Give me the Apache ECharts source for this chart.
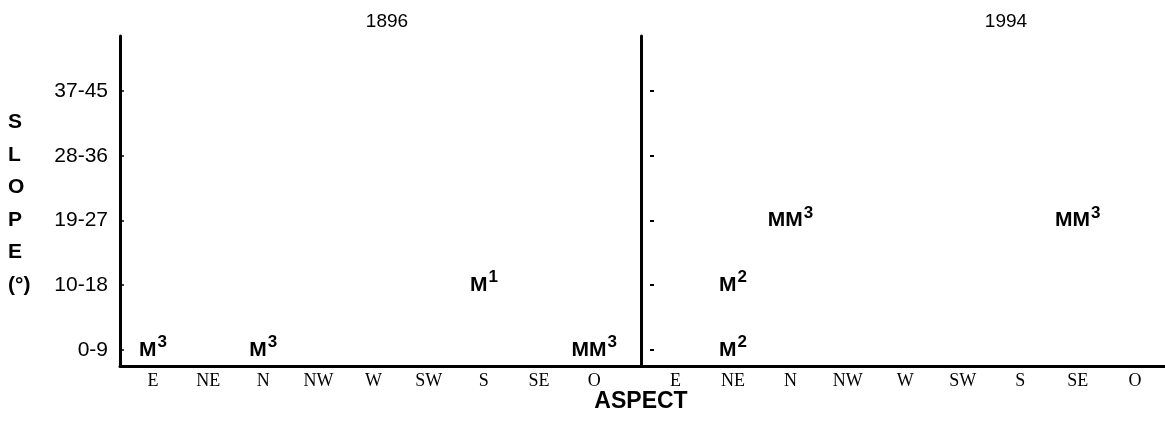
<!DOCTYPE html>
<html>
<head>
<meta charset="utf-8">
<script src="https://cdn.jsdelivr.net/npm/echarts@6/dist/echarts.min.js"></script>
<style>
  html, body { margin: 0; padding: 0; background: #fff; }
  #chart { width: 1165px; height: 433px; }
</style>
</head>
<body>
<div id="chart"></div>
<script>
// ---- data ----
const aspects = ['E', 'NE', 'N', 'NW', 'W', 'SW', 'S', 'SE', 'O'];
const slopes = ['0-9', '10-18', '19-27', '28-36', '37-45'];
const panelTitles = ['1896', '1994'];

// each mark: aspect, slope class, letters, superscript
const marks1896Aspect = ['E', 'N', 'S', 'O'];
const marks1896Slope = ['0-9', '0-9', '10-18', '0-9'];
const marks1896Text = ['M', 'M', 'M', 'MM'];
const marks1896Sup = ['3', '3', '1', '3'];

const marks1994Aspect = ['NE', 'NE', 'N', 'SE'];
const marks1994Slope = ['0-9', '10-18', '19-27', '19-27'];
const marks1994Text = ['M', 'M', 'MM', 'MM'];
const marks1994Sup = ['2', '2', '3', '3'];

// ---- build ----
function buildData(a, s, t, p) {
  return a.map((asp, i) => ({
    value: [aspects.indexOf(asp), slopes.indexOf(s[i])],
    txt: t[i], sup: p[i]
  }));
}
const idx = aspects.map((_, i) => i);
const sidx = slopes.map((_, i) => i);

const chart = echarts.init(document.getElementById('chart'), null, { renderer: 'canvas' });

const black = '#000';
const sans = 'Liberation Sans, Arial, Helvetica, sans-serif';
const serif = 'Liberation Serif, Times New Roman, serif';

function xAxis(gridIndex, max) {
  return {
    type: 'value', gridIndex, min: -0.6, max: max,
    splitLine: { show: false },
    axisLine: { show: true, onZero: false, lineStyle: { color: black, width: 3 } },
    axisTick: { show: false },
    axisLabel: {
      customValues: idx,
      formatter: v => aspects[Math.round(v)],
      color: black, fontFamily: serif, fontSize: 18, margin: 6
    }
  };
}

const labelStyle = {
  show: true,
  position: 'inside',
  color: black,
  opacity: 1,
  formatter: p => '{m|' + p.data.txt + '}{s|' + p.data.sup + '}',
  rich: {
    m: { fontFamily: sans, fontWeight: 'bold', fontSize: 21, lineHeight: 32, color: black },
    s: { fontFamily: sans, fontWeight: 'bold', fontSize: 17, lineHeight: 17, verticalAlign: 'top', color: black, padding: [0, 0, 0, 1] }
  }
};

const option = {
  backgroundColor: '#fff',
  animation: false,
  title: [
    { text: panelTitles[0], left: 382, top: 7, textAlign: 'center',
      textStyle: { fontFamily: sans, fontSize: 19, fontWeight: 'normal', color: black } },
    { text: panelTitles[1], left: 1001, top: 7, textAlign: 'center',
      textStyle: { fontFamily: sans, fontSize: 19, fontWeight: 'normal', color: black } }
  ],
  graphic: [
    { type: 'text', x: 8, y: 106,
      style: { text: 'S\nL\nO\nP\nE\n(°)', fontFamily: sans, fontWeight: 'bold', fontSize: 21,
               lineHeight: 32.5, fill: black } },
    { type: 'text', x: 641, y: 402,
      style: { text: 'ASPECT', fontFamily: sans, fontWeight: 'bold', fontSize: 23, fill: black,
               align: 'center', verticalAlign: 'middle' } }
  ],
  grid: [
    { left: 120, right: 524, top: 36, bottom: 67 },
    { left: 641, right: 0, top: 36, bottom: 67 }
  ],
  xAxis: [xAxis(0, 8.85), xAxis(1, 8.52)],
  yAxis: [
    {
      type: 'value', gridIndex: 0, position: 'left', min: -0.25, max: 4.85,
      splitLine: { show: false },
      axisLine: { show: true, onZero: false, lineStyle: { color: black, width: 3 } },
      axisTick: { show: true, inside: true, length: 4, customValues: sidx, lineStyle: { color: black, width: 1.5 } },
      axisLabel: {
        customValues: sidx,
        formatter: v => slopes[Math.round(v)],
        color: black, fontFamily: sans, fontSize: 21, margin: 12
      }
    },
    {
      type: 'value', gridIndex: 1, position: 'left', min: -0.25, max: 4.85,
      splitLine: { show: false },
      axisLine: { show: true, onZero: false, lineStyle: { color: black, width: 3 } },
      axisTick: { show: false },
      axisLabel: { show: false }
    },
    {
      type: 'value', gridIndex: 1, position: 'left', min: -0.25, max: 4.85, offset: -9,
      splitLine: { show: false },
      axisLine: { show: false, onZero: false },
      axisTick: { show: true, inside: true, length: 4, customValues: sidx, lineStyle: { color: black, width: 2 } },
      axisLabel: { show: false }
    }
  ],
  series: [
    {
      type: 'scatter', xAxisIndex: 0, yAxisIndex: 0, symbolSize: 0,
      itemStyle: { opacity: 1 },
      data: buildData(marks1896Aspect, marks1896Slope, marks1896Text, marks1896Sup),
      label: labelStyle
    },
    {
      type: 'scatter', xAxisIndex: 1, yAxisIndex: 1, symbolSize: 0,
      itemStyle: { opacity: 1 },
      data: buildData(marks1994Aspect, marks1994Slope, marks1994Text, marks1994Sup),
      label: labelStyle
    }
  ]
};
chart.setOption(option);
</script>
</body>
</html>
